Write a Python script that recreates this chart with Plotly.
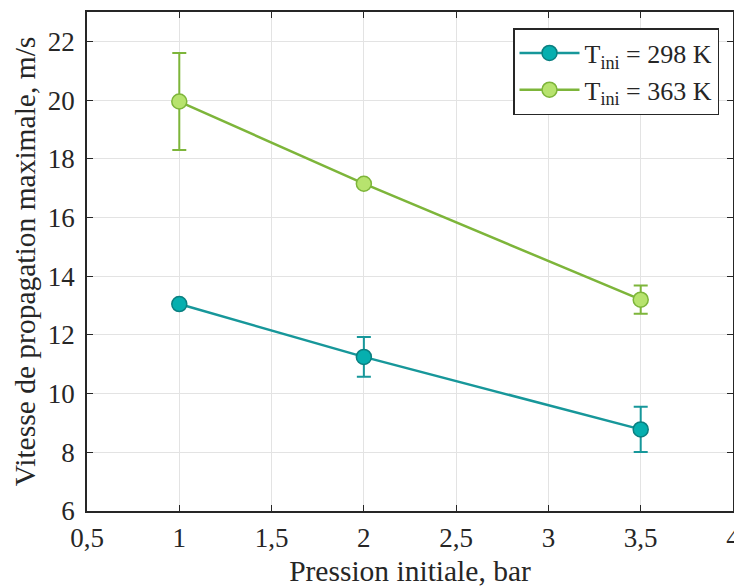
import plotly.graph_objects as go

pression = [1, 2, 3.5]
v_298 = [13.05, 11.25, 8.78]
err_298 = [0.0, 0.68, 0.77]
v_363 = [19.95, 17.15, 13.2]
err_363 = [1.65, 0.0, 0.48]
names = ["T<sub>ini</sub> = 298 K", "T<sub>ini</sub> = 363 K"]
x_ticks = [0.5, 1, 1.5, 2, 2.5, 3, 3.5, 4]
y_ticks = [6, 8, 10, 12, 14, 16, 18, 20, 22]

FONT = "Liberation Serif"
teal_line = "#17979A"
teal_fill = "#06AFAF"
teal_edge = "#0B7F80"
green_line = "#7DB53A"
green_fill = "#B7E36E"
green_edge = "#7DB53A"

fig = go.Figure()
fig.add_trace(go.Scatter(
    x=pression, y=v_298, name=names[0], mode="lines+markers",
    line=dict(color=teal_line, width=2.5),
    marker=dict(size=15, color=teal_fill, line=dict(color=teal_edge, width=1.5)),
    error_y=dict(type="data", array=err_298, visible=True, color=teal_line,
                 thickness=2, width=7),
))
fig.add_trace(go.Scatter(
    x=pression, y=v_363, name=names[1], mode="lines+markers",
    line=dict(color=green_line, width=2.5),
    marker=dict(size=15, color=green_fill, line=dict(color=green_edge, width=1.5)),
    error_y=dict(type="data", array=err_363, visible=True, color=green_line,
                 thickness=2, width=7),
))

axis_common = dict(
    showline=True, linecolor="#262626", linewidth=1.5, mirror="ticks",
    ticks="inside", ticklen=6, tickcolor="#262626", tickwidth=1,
    showgrid=True, gridcolor="#E3E3E3", gridwidth=1, zeroline=False,
    automargin=False,
    tickfont=dict(family=FONT, size=27, color="#262626"),
)

W = 760
fig.update_layout(
    width=W, height=587,
    margin=dict(l=87, r=W - 733, t=12, b=76),
    paper_bgcolor="white", plot_bgcolor="white",
    separators=", ",
    font=dict(family=FONT, color="#262626"),
    xaxis=dict(range=[0.5, 4], tickvals=x_ticks,
               title=dict(text="Pression initiale, bar", font=dict(family=FONT, size=29.5), standoff=8),
               ticklabelstandoff=2,
               **axis_common),
    yaxis=dict(range=[6, 23], tickvals=y_ticks,
               title=dict(text="Vitesse de propagation maximale, m/s", font=dict(family=FONT, size=29.5), standoff=4),
               ticklabelstandoff=5,
               **axis_common),
    legend=dict(x=(719 - 87) / (733 - 87), y=(511 - 28) / (511 - 12), xanchor="right", yanchor="top",
                bgcolor="white", bordercolor="#262626", borderwidth=1.5,
                font=dict(family=FONT, size=26, color="#262626"),
                itemwidth=60, tracegroupgap=0),
    showlegend=True,
)

fig.write_html("out.html", config={"displayModeBar": False},
               post_script="document.body.style.margin='0';document.body.style.overflow='hidden';document.documentElement.style.overflow='hidden';")
